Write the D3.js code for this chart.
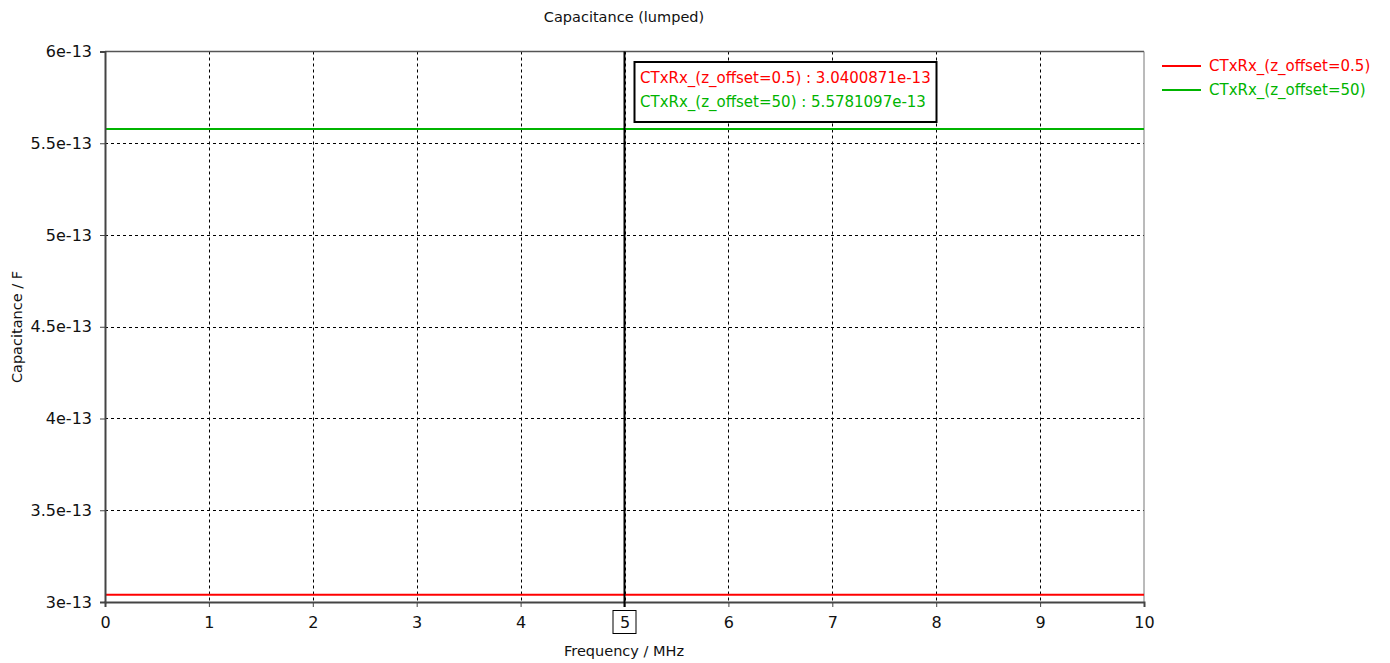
<!DOCTYPE html>
<html>
<head>
<meta charset="utf-8">
<script src="https://cdn.jsdelivr.net/npm/d3@7"></script>
<style>
  body { margin: 0; background: #fff; }
  text { font-family: "DejaVu Sans", Verdana, sans-serif; }
</style>
</head>
<body>
<svg id="chart" width="1390" height="663"></svg>
<script>
// series: constant capacitance over frequency
const freqs = [0, 1, 2, 3, 4, 5, 6, 7, 8, 9, 10]
const seriesNames = ['CTxRx_(z_offset=0.5)', 'CTxRx_(z_offset=50)']
const seriesValues = [
  [3.0400871e-13, 3.0400871e-13, 3.0400871e-13, 3.0400871e-13, 3.0400871e-13, 3.0400871e-13, 3.0400871e-13, 3.0400871e-13, 3.0400871e-13, 3.0400871e-13, 3.0400871e-13],
  [5.5781097e-13, 5.5781097e-13, 5.5781097e-13, 5.5781097e-13, 5.5781097e-13, 5.5781097e-13, 5.5781097e-13, 5.5781097e-13, 5.5781097e-13, 5.5781097e-13, 5.5781097e-13]
]
const seriesColors = ['#ff0000', '#00b400']
const yTicks = [3e-13, 3.5e-13, 4e-13, 4.5e-13, 5e-13, 5.5e-13, 6e-13]
const yTickLabels = ['3e-13', '3.5e-13', '4e-13', '4.5e-13', '5e-13', '5.5e-13', '6e-13']
const xTicks = [0, 1, 2, 3, 4, 5, 6, 7, 8, 9, 10]
const cursorX = 5
const cursorValues = ['3.0400871e-13', '5.5781097e-13']

const fontSize = '14.5px'
const tickFontSize = '16px'
const margin = { left: 105, top: 51.5, right: 1144, bottom: 602 }
const svg = d3.select('#chart')

const x = d3.scaleLinear().domain([0, 10]).range([margin.left, margin.right])
const y = d3.scaleLinear().domain([3e-13, 6e-13]).range([margin.bottom, margin.top])

// grid
const grid = svg.append('g')
  .attr('stroke', '#000')
  .attr('stroke-width', 1)
  .attr('stroke-dasharray', '3,3')
grid.selectAll('line.vx')
  .data(xTicks.slice(1, -1))
  .join('line')
  .attr('x1', d => Math.round(x(d)) + 0.5)
  .attr('x2', d => Math.round(x(d)) + 0.5)
  .attr('y1', margin.top)
  .attr('y2', margin.bottom)
grid.selectAll('line.hy')
  .data(yTicks.slice(1, -1))
  .join('line')
  .attr('x1', margin.left)
  .attr('x2', margin.right)
  .attr('y1', d => Math.round(y(d)) + 0.5)
  .attr('y2', d => Math.round(y(d)) + 0.5)

// frame
svg.append('line')
  .attr('x1', margin.left).attr('x2', margin.right)
  .attr('y1', margin.top).attr('y2', margin.top)
  .attr('stroke', '#555').attr('stroke-width', 1.5)
svg.append('line')
  .attr('x1', margin.right).attr('x2', margin.right)
  .attr('y1', margin.top).attr('y2', margin.bottom)
  .attr('stroke', '#777').attr('stroke-width', 1)

// series lines
const line = d3.line()
  .x((d, i) => x(freqs[i]))
  .y(d => y(d))
seriesValues.forEach((vals, i) => {
  svg.append('path')
    .datum(vals)
    .attr('fill', 'none')
    .attr('stroke', seriesColors[i])
    .attr('stroke-width', 2)
    .attr('d', line)
})

// axes
const yAxis = d3.axisLeft(y)
  .tickValues(yTicks)
  .tickFormat((d, i) => yTickLabels[i])
  .tickSize(5)
  .tickPadding(8)
const gy = svg.append('g')
  .attr('transform', `translate(${margin.left},0)`)
  .call(yAxis)
const xAxis = d3.axisBottom(x)
  .tickValues(xTicks)
  .tickFormat(d3.format('d'))
  .tickSize(5)
  .tickPadding(10)
const gx = svg.append('g')
  .attr('transform', `translate(0,${margin.bottom})`)
  .call(xAxis)

;[gx, gy].forEach(g => {
  g.select('.domain').attr('stroke', '#444').attr('stroke-width', 2)
  g.selectAll('.tick line').attr('stroke', '#444')
  g.selectAll('.tick text')
    .attr('fill', '#111')
    .style('font-family', '"DejaVu Sans", Verdana, sans-serif')
    .style('font-size', tickFontSize)
})

// cursor
svg.append('line')
  .attr('x1', x(cursorX)).attr('x2', x(cursorX))
  .attr('y1', margin.top).attr('y2', margin.bottom + 5)
  .attr('stroke', '#000').attr('stroke-width', 2)

// boxed x tick at cursor
svg.append('rect')
  .attr('x', x(cursorX) - 11.5).attr('y', 610.5)
  .attr('width', 23).attr('height', 23)
  .attr('fill', 'none').attr('stroke', '#000').attr('stroke-width', 1)

// cursor value box
svg.append('rect')
  .attr('x', 634.5).attr('y', 62)
  .attr('width', 302).attr('height', 60)
  .attr('fill', '#fff').attr('stroke', '#000').attr('stroke-width', 2)
seriesNames.forEach((n, i) => {
  svg.append('text')
    .attr('x', 640)
    .attr('y', 83 + i * 24)
    .attr('fill', seriesColors[i])
    .style('font-size', '15px')
    .text(`${n} : ${cursorValues[i]}`)
})

// legend
seriesNames.forEach((n, i) => {
  const ly = 66 + i * 24
  svg.append('line')
    .attr('x1', 1162).attr('x2', 1201)
    .attr('y1', ly).attr('y2', ly)
    .attr('stroke', seriesColors[i]).attr('stroke-width', 2)
  svg.append('text')
    .attr('x', 1209).attr('y', ly + 5)
    .attr('fill', seriesColors[i])
    .style('font-size', '15px')
    .text(n)
})

// titles
svg.append('text')
  .attr('x', 624).attr('y', 22)
  .attr('text-anchor', 'middle')
  .attr('fill', '#111')
  .style('font-size', fontSize)
  .text('Capacitance (lumped)')
svg.append('text')
  .attr('x', 624).attr('y', 656)
  .attr('text-anchor', 'middle')
  .attr('fill', '#111')
  .style('font-size', fontSize)
  .text('Frequency / MHz')
svg.append('text')
  .attr('transform', 'translate(22,327) rotate(-90)')
  .attr('text-anchor', 'middle')
  .attr('fill', '#111')
  .style('font-size', fontSize)
  .text('Capacitance / F')
</script>
</body>
</html>
